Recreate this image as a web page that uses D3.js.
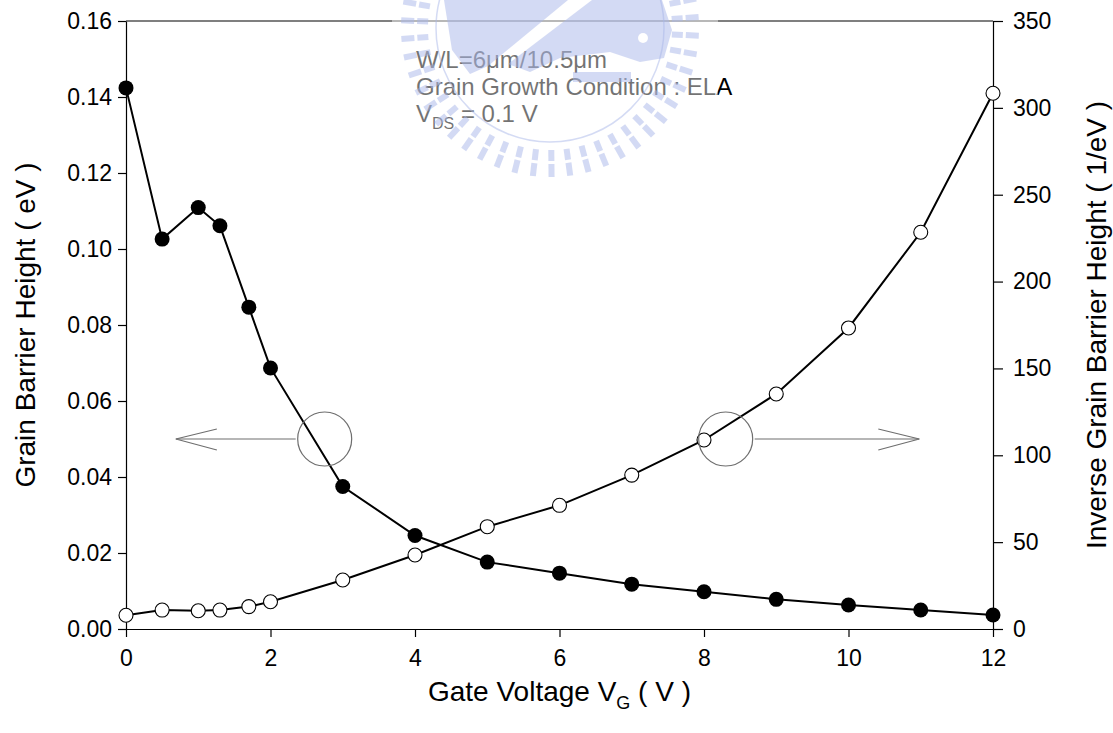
<!DOCTYPE html>
<html>
<head>
<meta charset="utf-8">
<script src="https://cdn.jsdelivr.net/npm/d3@7"></script>
<style>
  body { margin: 0; background: #fff; }
  svg { display: block; }
  text { font-family: Arial, "Liberation Sans", sans-serif; fill: #000; }
</style>
</head>
<body>
<svg id="chart" width="1113" height="733"></svg>
<script>
// Gate voltage sweep (V)
const gateVoltage = [0, 0.5, 1, 1.3, 1.7, 2, 3, 4, 5, 6, 7, 8, 9, 10, 11, 12];
// Grain barrier height (eV), left axis
const barrierHeight = [0.1424, 0.1026, 0.1109, 0.1061, 0.0847, 0.0687, 0.0375, 0.0246,
                       0.0176, 0.0147, 0.0118, 0.0098, 0.0078, 0.0063, 0.0050, 0.0037];
// Inverse grain barrier height (1/eV), right axis
const inverseBarrier = [7.9, 10.9, 10.5, 10.9, 12.9, 15.7, 28.2, 42.6,
                        58.9, 71.2, 88.6, 108.8, 135.3, 173.3, 228.4, 308.4];

const xTicks = [0, 2, 4, 6, 8, 10, 12];
const leftTicks = [0, 0.02, 0.04, 0.06, 0.08, 0.10, 0.12, 0.14, 0.16];
const rightTicks = [0, 50, 100, 150, 200, 250, 300, 350];

// Arrow callouts pointing each curve to its axis: circle x, y (left units), arrow tip x
const leftCallout = { cx: 2.75, cy: 0.05, tip: 0.69 };
const rightCallout = { cx: 8.3, cy: 0.05, tip: 10.98 };

const annotationLines = ["W/L=6\u03bcm/10.5\u03bcm", "Grain Growth Condition : ELA"];

const svg = d3.select("#chart");
const plot = { left: 126, right: 993, top: 21, bottom: 629 };

const x = d3.scaleLinear().domain([0, 12]).range([plot.left, plot.right]);
const yL = d3.scaleLinear().domain([0, 0.16]).range([plot.bottom, plot.top]);
const yR = d3.scaleLinear().domain([0, 350]).range([plot.bottom, plot.top]);

const tickFont = "23px";
const titleFont = "28px";

// Axes
const gx = svg.append("g").attr("transform", `translate(0,${plot.bottom})`)
  .call(d3.axisBottom(x).tickValues(xTicks).tickFormat(d3.format("d"))
        .tickSize(8).tickSizeOuter(0).tickPadding(13));
const gl = svg.append("g").attr("transform", `translate(${plot.left},0)`)
  .call(d3.axisLeft(yL).tickValues(leftTicks).tickFormat(d3.format(".2f"))
        .tickSize(8).tickSizeOuter(0).tickPadding(6));
const gr = svg.append("g").attr("transform", `translate(${plot.right},0)`)
  .call(d3.axisRight(yR).tickValues(rightTicks).tickFormat(d3.format("d"))
        .tickSize(10).tickSizeOuter(0).tickPadding(10));

[gx, gl, gr].forEach(g => {
  g.selectAll("path.domain").attr("stroke", "#000").attr("stroke-width", 1.2);
  g.selectAll(".tick line").attr("stroke", "#000").attr("stroke-width", 1.2);
  g.selectAll(".tick text").style("font-size", tickFont)
    .style("font-family", "Arial, 'Liberation Sans', sans-serif").attr("fill", "#000");
});

// Top frame line
svg.append("line")
  .attr("x1", x(0)).attr("x2", x(12)).attr("y1", plot.top).attr("y2", plot.top)
  .attr("stroke", "#000").attr("stroke-width", 1.2);

// Axis titles
svg.append("text")
  .attr("transform", `translate(35,${(plot.top + plot.bottom) / 2}) rotate(-90)`)
  .attr("text-anchor", "middle").style("font-size", titleFont)
  .text("Grain Barrier Height ( eV )");

svg.append("text")
  .attr("transform", `translate(1106,${(plot.top + plot.bottom) / 2}) rotate(-90)`)
  .attr("text-anchor", "middle").style("font-size", titleFont)
  .text("Inverse Grain Barrier Height ( 1/eV )");

const xt = svg.append("text")
  .attr("x", (plot.left + plot.right) / 2).attr("y", 701)
  .attr("text-anchor", "middle").style("font-size", titleFont);
xt.append("tspan").text("Gate Voltage V");
xt.append("tspan").attr("dy", 8).style("font-size", "18px").text("G");
xt.append("tspan").attr("dy", -8).text(" ( V )");

// Curves
const lineL = d3.line().x((d, i) => x(gateVoltage[i])).y(d => yL(d));
const lineR = d3.line().x((d, i) => x(gateVoltage[i])).y(d => yR(d));

svg.append("path").datum(barrierHeight).attr("d", lineL)
  .attr("fill", "none").attr("stroke", "#000").attr("stroke-width", 2);
svg.append("path").datum(inverseBarrier).attr("d", lineR)
  .attr("fill", "none").attr("stroke", "#000").attr("stroke-width", 2);

svg.append("g").selectAll("circle").data(inverseBarrier).join("circle")
  .attr("cx", (d, i) => x(gateVoltage[i])).attr("cy", d => yR(d)).attr("r", 7)
  .attr("fill", "#fff").attr("stroke", "#000").attr("stroke-width", 1.1);
svg.append("g").selectAll("circle").data(barrierHeight).join("circle")
  .attr("cx", (d, i) => x(gateVoltage[i])).attr("cy", d => yL(d)).attr("r", 7.5)
  .attr("fill", "#000");

// Callout circles with arrows
function callout(c) {
  const r = 27;
  const cx = x(c.cx), cy = yL(c.cy), tx = x(c.tip);
  const dir = tx < cx ? -1 : 1;
  const g = svg.append("g").attr("stroke", "#6e6e6e").attr("stroke-width", 1.2).attr("fill", "none");
  g.append("circle").attr("cx", cx).attr("cy", cy).attr("r", r);
  g.append("line").attr("x1", cx + dir * (r + 2)).attr("y1", cy).attr("x2", tx).attr("y2", cy);
  g.append("polyline").attr("points",
    `${tx - dir * 41},${cy - 10} ${tx},${cy} ${tx - dir * 41},${cy + 11}`);
}
callout(leftCallout);
callout(rightCallout);

// Condition annotation
const ann = svg.append("text").attr("x", 416).attr("y", 68).style("font-size", "24px");
annotationLines.forEach((t, i) => {
  ann.append("tspan").attr("x", 416).attr("dy", i === 0 ? 0 : 27).text(t);
});
const vds = svg.append("text").attr("x", 416).attr("y", 122).style("font-size", "24px");
vds.append("tspan").text("V");
vds.append("tspan").attr("dy", 7).style("font-size", "16px").text("DS");
vds.append("tspan").attr("dy", -7).text(" = 0.1 V");

// Emblem overlay (semi-transparent) at the top of the page
const emb = svg.append("g");
emb.append("rect").attr("x", 392).attr("y", 0).attr("width", 326).attr("height", 186)
  .attr("fill", "#fff").attr("opacity", 0.45);
const ec = { x: 550, y: 28 };
const blue = "#a9b7ea";
const rays = emb.append("g").attr("fill", blue).attr("opacity", 0.5);
for (let k = 0; k < 50; k++) {
  const a = (k / 50) * 360 + 3;
  [[122, 133], [136, 149]].forEach(([r0, r1]) => {
    rays.append("rect")
      .attr("x", r0).attr("y", -3).attr("width", r1 - r0).attr("height", 6)
      .attr("transform", `translate(${ec.x},${ec.y}) rotate(${a})`);
  });
}
emb.append("circle").attr("cx", ec.x).attr("cy", ec.y).attr("r", 114)
  .attr("fill", "none").attr("stroke", blue).attr("stroke-width", 1.5).attr("opacity", 0.5);
const inner = emb.append("g").attr("fill", blue).attr("opacity", 0.5);
inner.append("path").attr("d", "M444,0 L568,0 L488,66 L470,74 L452,50 Z");
inner.append("path").attr("d", "M592,0 L662,0 L672,30 L664,58 L640,62 L610,52 L560,58 L530,72 L508,64 Z");
inner.append("rect").attr("x", 573).attr("y", 72).attr("width", 58).attr("height", 10);
inner.append("circle").attr("cx", 643).attr("cy", 38).attr("r", 5).attr("fill", "#fff");
</script>
</body>
</html>
